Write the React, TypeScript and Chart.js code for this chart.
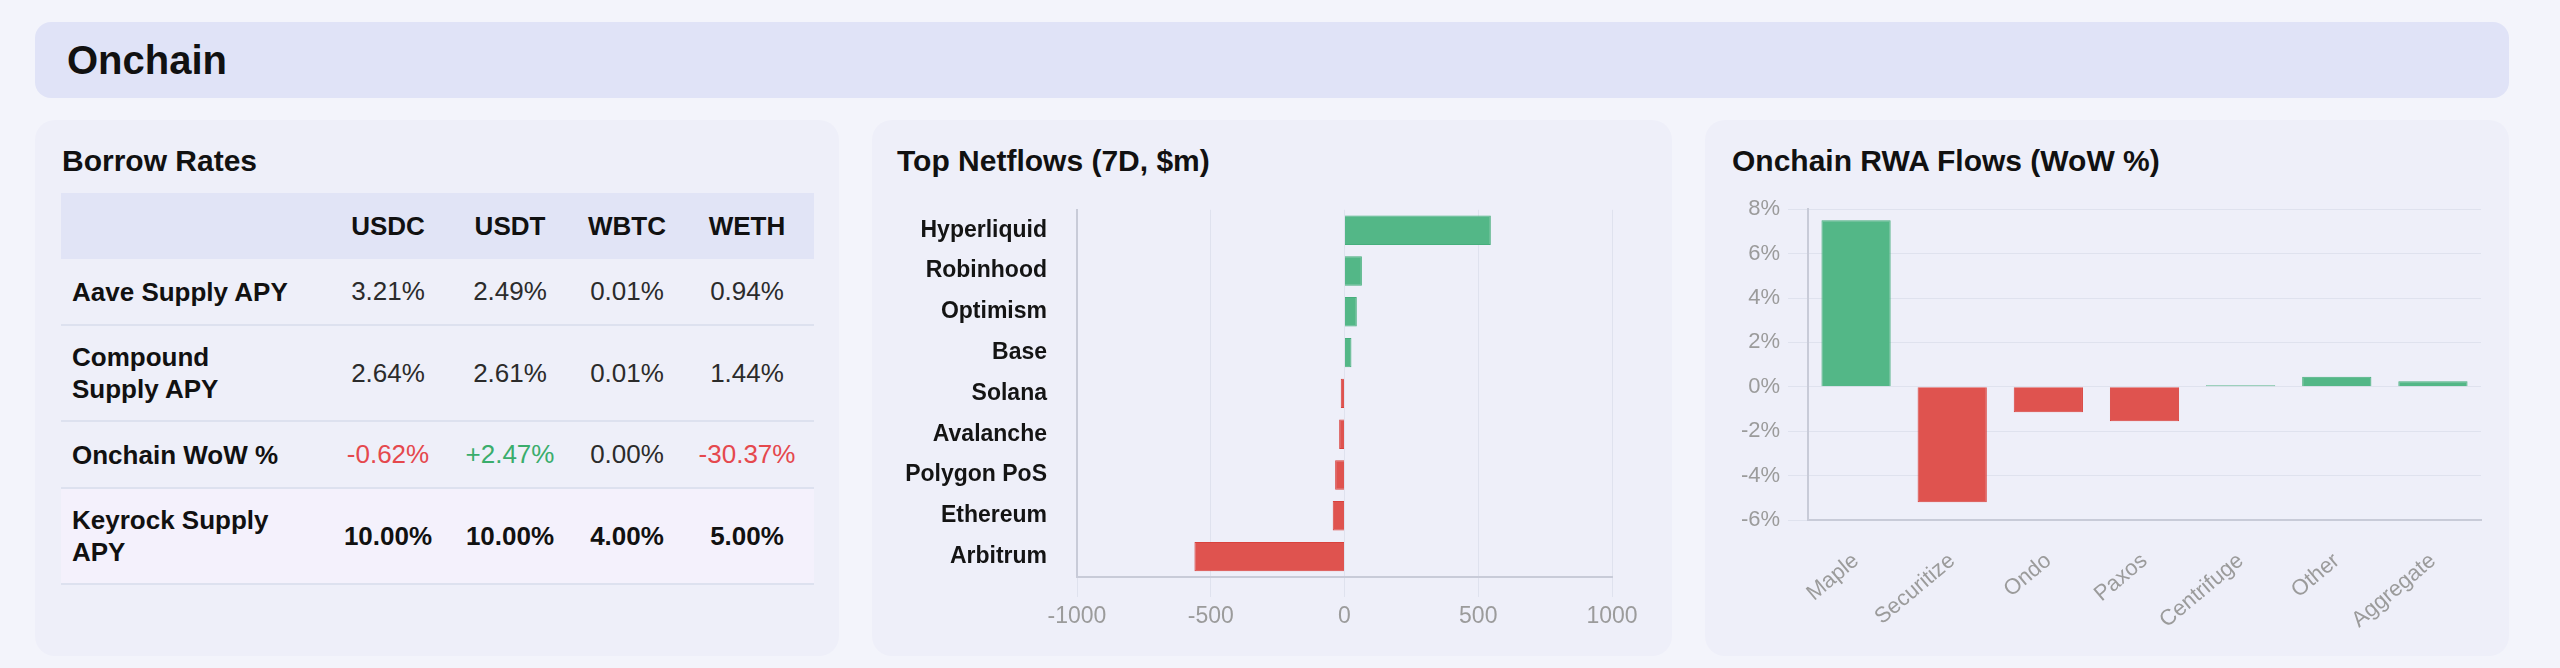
import React, { useEffect, useRef } from 'react';
import { Chart, registerables } from 'chart.js';

Chart.register(...registerables);

const FONT = "'Liberation Sans', Arial, Helvetica, sans-serif";

// ---- Borrow Rates table data ----
const tokens = ['USDC', 'USDT', 'WBTC', 'WETH'];
const rowLabels = ['Aave Supply APY', 'Compound\nSupply APY', 'Onchain WoW %', 'Keyrock Supply\nAPY'];
const aaveSupply = ['3.21%', '2.49%', '0.01%', '0.94%'];
const compoundSupply = ['2.64%', '2.61%', '0.01%', '1.44%'];
const onchainWoW = ['-0.62%', '+2.47%', '0.00%', '-30.37%'];
const keyrockSupply = ['10.00%', '10.00%', '4.00%', '5.00%'];

// ---- Top Netflows data ($m, 7D) ----
const netflowCategories = ['Hyperliquid', 'Robinhood', 'Optimism', 'Base', 'Solana', 'Avalanche', 'Polygon PoS', 'Ethereum', 'Arbitrum'];
const netflowValues = [547, 65, 46, 26, -14, -20, -35, -44, -561];

// ---- Onchain RWA flows (WoW %) ----
const rwaCategories = ['Maple', 'Securitize', 'Ondo', 'Paxos', 'Centrifuge', 'Other', 'Aggregate'];
const rwaValues = [7.5, -5.2, -1.15, -1.55, 0.07, 0.45, 0.25];

const GREEN = '#53b787';
const GREEN_BORDER = '#46ae7c';
const RED = '#df534f';
const RED_BORDER = '#d9423d';
const GRID = '#dfe2ee';
const AXIS = '#c8cbd8';
const TICK_GRAY = '#9b9b9b';

const PAGE_BG = '#f3f4fb';
const HEADER_BG = '#e0e3f7';
const PANEL_BG = '#eeeff9';
const TABLE_HEAD_BG = '#e1e4f6';
const KEYROCK_BG = '#f4f1fc';
const SEP = '#dde1ef';

function ChartCanvas({ config, left, top, width, height }: any) {
  const ref = useRef<HTMLCanvasElement>(null);
  useEffect(() => {
    const chart = new Chart(ref.current as HTMLCanvasElement, config);
    return () => chart.destroy();
  }, []);
  return (
    <canvas
      ref={ref}
      width={width}
      height={height}
      style={{ position: 'absolute', left, top, width, height }}
    />
  );
}

const netflowConfig: any = {
  type: 'bar',
  data: {
    labels: netflowCategories,
    datasets: [
      {
        data: netflowValues,
        backgroundColor: netflowValues.map((v) => (v >= 0 ? GREEN : RED)),
        borderColor: netflowValues.map((v) => (v >= 0 ? GREEN_BORDER : RED_BORDER)),
        borderWidth: 1,
      },
    ],
  },
  options: {
    indexAxis: 'y',
    responsive: false,
    maintainAspectRatio: false,
    animation: false,
    layout: { padding: { top: 19, right: 35, bottom: 5, left: 0 } },
    plugins: { legend: { display: false }, tooltip: { enabled: false } },
    scales: {
      x: {
        min: -1000,
        max: 1000,
        ticks: {
          stepSize: 500,
          color: TICK_GRAY,
          font: { family: FONT, size: 23 },
          padding: 6,
          maxRotation: 0,
          callback: (v: any) => String(v),
        },
        grid: { color: GRID, tickLength: 20, tickColor: GRID },
        border: { color: AXIS, width: 2 },
        afterFit: (s: any) => { s.height = 58; },
      },
      y: {
        ticks: { color: '#141414', font: { family: FONT, size: 23, weight: 'bold' }, padding: 6 },
        grid: { display: true, drawOnChartArea: false, tickLength: 24, tickColor: 'rgba(0,0,0,0)' },
        border: { color: AXIS, width: 2 },
        afterFit: (s: any) => { s.width = 180; },
      },
    },
  },
};

const rwaConfig: any = {
  type: 'bar',
  data: {
    labels: rwaCategories,
    datasets: [
      {
        data: rwaValues,
        backgroundColor: rwaValues.map((v) => (v >= 0 ? GREEN : RED)),
        borderColor: rwaValues.map((v) => (v >= 0 ? GREEN_BORDER : RED_BORDER)),
        borderWidth: 1,
      },
    ],
  },
  options: {
    responsive: false,
    maintainAspectRatio: false,
    animation: false,
    layout: { padding: { top: 21, right: 9, bottom: 0, left: 0 } },
    plugins: { legend: { display: false }, tooltip: { enabled: false } },
    scales: {
      x: {
        grid: { display: false, drawTicks: false },
        border: { color: AXIS, width: 2 },
        ticks: {
          color: TICK_GRAY,
          font: { family: FONT, size: 22 },
          minRotation: 40,
          maxRotation: 40,
          padding: 28,
          autoSkip: false,
        },
        afterFit: (s: any) => { s.height = 125; },
      },
      y: {
        min: -6,
        max: 8,
        ticks: {
          stepSize: 2,
          color: TICK_GRAY,
          font: { family: FONT, size: 22 },
          padding: 8,
          callback: (v: any) => v + '%',
        },
        grid: { color: GRID, tickLength: 20, tickColor: GRID },
        border: { color: AXIS, width: 2 },
        afterFit: (s: any) => { s.width = 78; },
      },
    },
  },
};

const colWidths = [269, 116, 128, 106, 134];
const rowHeights = [67, 96, 67, 96];

function wowColor(v: string) {
  if (v.startsWith('-')) return '#e5484d';
  if (v.startsWith('+')) return '#3aad6c';
  return '#2b2b2b';
}

function BorrowTable() {
  const rows = [aaveSupply, compoundSupply, onchainWoW, keyrockSupply];
  return (
    <div style={{ position: 'absolute', left: 61, top: 193, width: 753 }}>
      <div style={{ display: 'flex', height: 66, background: TABLE_HEAD_BG, alignItems: 'center' }}>
        <div style={{ width: colWidths[0] }} />
        {tokens.map((t, i) => (
          <div key={t} style={{ width: colWidths[i + 1], textAlign: 'center', fontWeight: 700, fontSize: 26, color: '#111' }}>
            {t}
          </div>
        ))}
      </div>
      {rows.map((vals, r) => (
        <div
          key={r}
          style={{
            display: 'flex',
            alignItems: 'center',
            boxSizing: 'border-box',
            height: rowHeights[r],
            borderBottom: `2px solid ${SEP}`,
            background: r === 3 ? KEYROCK_BG : 'transparent',
          }}
        >
          <div
            style={{
              width: colWidths[0],
              boxSizing: 'border-box',
              paddingLeft: 11,
              fontWeight: 700,
              fontSize: 26,
              lineHeight: '32px',
              whiteSpace: 'pre-line',
              color: '#111',
            }}
          >
            {rowLabels[r]}
          </div>
          {vals.map((v, i) => (
            <div
              key={i}
              style={{
                width: colWidths[i + 1],
                textAlign: 'center',
                fontSize: 26,
                fontWeight: r === 3 ? 700 : 400,
                color: r === 2 ? wowColor(v) : r === 3 ? '#111' : '#2b2b2b',
              }}
            >
              {v}
            </div>
          ))}
        </div>
      ))}
    </div>
  );
}

const titleStyle: any = {
  position: 'absolute',
  top: 146,
  fontSize: 30,
  lineHeight: '30px',
  fontWeight: 700,
  color: '#111',
  whiteSpace: 'nowrap',
};

export default function App() {
  return (
    <div
      style={{
        position: 'absolute',
        left: 0,
        top: 0,
        width: 2560,
        height: 668,
        background: PAGE_BG,
        fontFamily: FONT,
        overflow: 'hidden',
      }}
    >
      <div style={{ position: 'absolute', left: 35, top: 22, width: 2474, height: 76, background: HEADER_BG, borderRadius: 16 }} />
      <div style={{ position: 'absolute', left: 67, top: 40, fontSize: 40, lineHeight: '40px', fontWeight: 700, color: '#111' }}>
        Onchain
      </div>

      <div style={{ position: 'absolute', left: 35, top: 120, width: 804, height: 536, background: PANEL_BG, borderRadius: 20 }} />
      <div style={{ position: 'absolute', left: 872, top: 120, width: 800, height: 536, background: PANEL_BG, borderRadius: 20 }} />
      <div style={{ position: 'absolute', left: 1705, top: 120, width: 804, height: 536, background: PANEL_BG, borderRadius: 20 }} />

      <div style={{ ...titleStyle, left: 62 }}>Borrow Rates</div>
      <BorrowTable />

      <div style={{ ...titleStyle, left: 897 }}>Top Netflows (7D, $m)</div>
      <ChartCanvas config={netflowConfig} left={897} top={190} width={750} height={450} />

      <div style={{ ...titleStyle, left: 1732 }}>Onchain RWA Flows (WoW %)</div>
      <ChartCanvas config={rwaConfig} left={1730} top={188} width={760} height={457} />
    </div>
  );
}
